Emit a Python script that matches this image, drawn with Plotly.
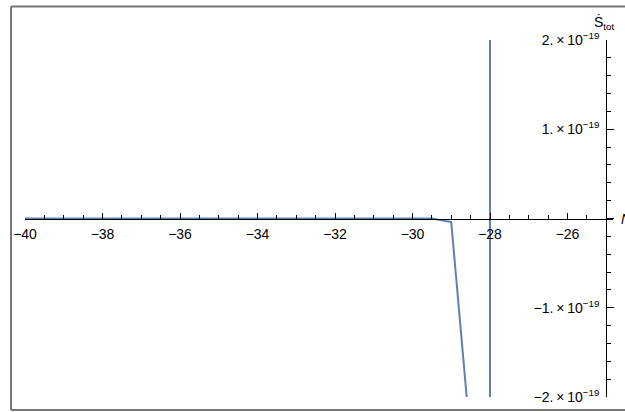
import plotly.graph_objects as go

# Data
N_vals = [-40, -39, -38, -37, -36, -35, -34, -33, -32, -31, -30, -29.5, -29.0, -28.5, -28.0, -28.0]
S_dot = [0, 0, 0, 0, 0, 0, 0, 0, 0, 0, 0, 0, -0.04e-19, -2.5e-19, -3.0e-18, 3.0e-18]

x_ticks = [-40, -38, -36, -34, -32, -30, -28, -26]
x_ticktext = ["\u221240", "\u221238", "\u221236", "\u221234", "\u221232", "\u221230", "\u221228", "\u221226"]
y_ticks = [-2e-19, -1e-19, 0, 1e-19, 2e-19]
y_ticktext = ["\u22122.\u2009\u00d7\u200910<sup>\u221219</sup>", "\u22121.\u2009\u00d7\u200910<sup>\u221219</sup>", "",
              "1.\u2009\u00d7\u200910<sup>\u221219</sup>", "2.\u2009\u00d7\u200910<sup>\u221219</sup>"]

W, H = 625, 412
left, right_px, top, bottom_px = 25, 613, 40, 397
px_per_unit = 38.75
xmin = -40
xmax = xmin + (right_px - left) / px_per_unit
ymin, ymax = -2e-19, 2e-19
yaxis_x = -25

font = dict(family="Liberation Sans, Arial, sans-serif", size=14, color="black")

fig = go.Figure()
fig.add_trace(go.Scatter(x=N_vals, y=S_dot, mode="lines",
                         line=dict(color="#5E81B5", width=2), showlegend=False,
                         cliponaxis=True))

fig.update_layout(
    width=W, height=H,
    margin=dict(l=left, r=W - right_px, t=top, b=H - bottom_px, pad=0, autoexpand=False),
    paper_bgcolor="white", plot_bgcolor="white",
    font=font,
    xaxis=dict(range=[xmin, xmax], showgrid=False, zeroline=False, automargin=False,
               showline=True, linecolor="black", linewidth=1,
               anchor="free", position=(0 - ymin) / (ymax - ymin),
               tickmode="array", tickvals=x_ticks, ticktext=x_ticktext,
               ticks="inside", ticklen=6, tickwidth=1, tickcolor="black",
               minor=dict(tickmode="linear", tick0=-40, dtick=0.5, ticks="inside",
                          ticklen=3.5, tickwidth=1, tickcolor="black"),
               tickfont=font, ticklabelstandoff=3),
    yaxis=dict(range=[ymin, ymax], showgrid=False, zeroline=False, automargin=False,
               showline=True, linecolor="black", linewidth=1,
               anchor="free", position=(yaxis_x - xmin) / (xmax - xmin), side="left",
               tickmode="array", tickvals=y_ticks, ticktext=y_ticktext,
               ticks="inside", ticklen=7, tickwidth=1, tickcolor="black",
               minor=dict(tickmode="linear", tick0=0, dtick=0.2e-19, ticks="inside",
                          ticklen=4, tickwidth=1, tickcolor="black"),
               tickfont=font, ticklabelstandoff=4),
)

pw = right_px - left
ph = bottom_px - top

# white strip at the far right edge (nothing is drawn there in the reference)
fig.add_shape(type="rect", xref="paper", yref="paper",
              x0=(616 - left) / pw, x1=(W + 5 - left) / pw,
              y0=(bottom_px - 409) / ph, y1=(bottom_px - 8) / ph,
              line=dict(width=0), fillcolor="white", layer="above")

# outer frame (left, top, bottom edges; right edge lies outside the image)
fx0, fx1 = (11 - left) / pw, (W - left) / pw
fy0, fy1 = (bottom_px - 410) / ph, (bottom_px - 6.5) / ph
frame = dict(color="#777777", width=2)
for (a, b, c, d) in [(fx0, fy0, fx0, fy1), (fx0, fy1, fx1, fy1), (fx0, fy0, fx1, fy0)]:
    fig.add_shape(type="line", xref="paper", yref="paper", x0=a, y0=b, x1=c, y1=d,
                  line=frame, layer="above")

# axis labels
fig.add_annotation(x=yaxis_x, xref="x", y=1, yref="paper", yanchor="bottom", yshift=6,
                   text="\u1e60<sub>tot</sub>", showarrow=False, xanchor="center", xshift=-2,
                   font=font)
fig.add_annotation(x=1, xref="paper", y=0, yref="y", xanchor="left", xshift=6,
                   text="<i>N</i>", showarrow=False, font=font)

fig.write_html("out.html", config={"displayModeBar": False},
               post_script="document.body.style.margin='0';"
                           "document.body.style.overflow='hidden';"
                           "document.documentElement.style.overflow='hidden';")
